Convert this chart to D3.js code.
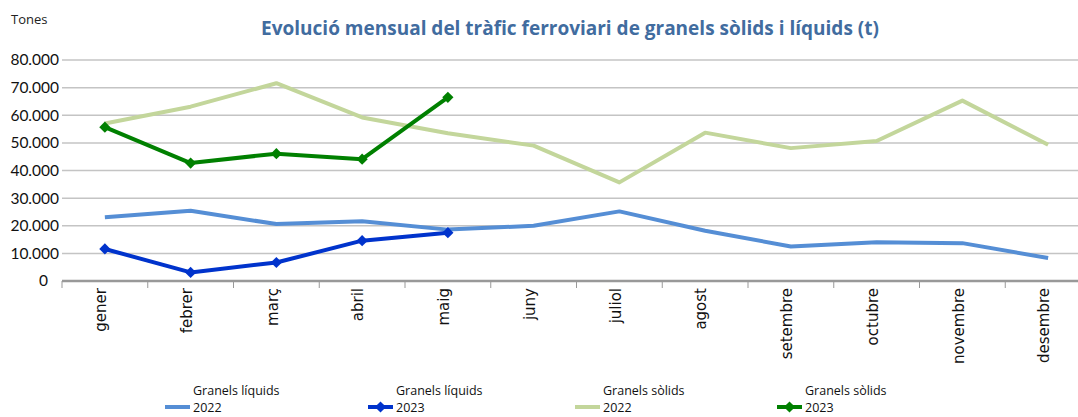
<!DOCTYPE html>
<html>
<head>
<meta charset="utf-8">
<script src="https://cdn.jsdelivr.net/npm/d3@7"></script>
<style>
  html, body { margin: 0; padding: 0; background: #fff; }
  svg { display: block; }
</style>
</head>
<body>
<svg id="chart" width="1078" height="417"></svg>
<script>
// Monthly rail traffic of dry and liquid bulk (tonnes)
const months = ["gener", "febrer", "març", "abril", "maig", "juny", "juliol",
                "agost", "setembre", "octubre", "novembre", "desembre"];
const yTicks = [0, 10000, 20000, 30000, 40000, 50000, 60000, 70000, 80000];

const liquids2022 = [23100, 25400, 20600, 21600, 18600, 20000, 25200, 18200, 12500, 14000, 13700, 8300];
const liquids2023 = [11600, 3100, 6700, 14600, 17500];
const solids2022  = [57000, 63100, 71600, 59200, 53500, 49000, 35700, 53700, 48100, 50700, 65300, 49300];
const solids2023  = [55700, 42700, 46100, 44100, 66500];

const series = [
  { name: ["Granels líquids", "2022"], values: liquids2022, color: "#558ED5", marker: false },
  { name: ["Granels líquids", "2023"], values: liquids2023, color: "#0033CC", marker: true },
  { name: ["Granels sòlids", "2022"],  values: solids2022,  color: "#C3D69B", marker: false },
  { name: ["Granels sòlids", "2023"],  values: solids2023,  color: "#008000", marker: true }
];

const svg = d3.select("#chart");
const plot = { left: 62, right: 1091, top: 60, bottom: 281 };

const x = d3.scaleBand().domain(months).range([plot.left, plot.right]);
const y = d3.scaleLinear().domain([0, 80000]).range([plot.bottom, plot.top]);
const fmt = d3.formatLocale({ decimal: ",", thousands: ".", grouping: [3], currency: ["", "€"] }).format(",d");

// Title and unit label
svg.append("text")
  .attr("x", 570).attr("y", 35)
  .attr("text-anchor", "middle")
  .attr("font-family", "'Open Sans', sans-serif")
  .attr("font-weight", "bold")
  .attr("font-size", 19)
  .attr("fill", "#416C9F")
  .text("Evolució mensual del tràfic ferroviari de granels sòlids i líquids (t)");

svg.append("text")
  .attr("x", 11).attr("y", 24)
  .attr("font-family", "'Open Sans', sans-serif")
  .attr("font-size", 13)
  .attr("fill", "#222")
  .text("Tones");

// Horizontal gridlines
svg.append("g")
  .selectAll("line")
  .data(yTicks.filter(d => d > 0))
  .join("line")
  .attr("x1", plot.left).attr("x2", 1078)
  .attr("y1", d => y(d)).attr("y2", d => y(d))
  .attr("stroke", "#C4C4C4")
  .attr("stroke-width", 1.5);

// Y axis labels
const yAxis = svg.append("g")
  .attr("transform", `translate(${plot.left - 3},0)`)
  .call(d3.axisLeft(y).tickValues(yTicks).tickFormat(fmt).tickSize(0).tickPadding(0));
yAxis.select(".domain").remove();
yAxis.selectAll("text")
  .attr("font-family", "Lato, sans-serif")
  .attr("font-size", 15.5)
  .attr("fill", "#111");
yAxis.selectAll(".tick").filter(d => d === 0).select("text").attr("dx", -11);

// X axis baseline with category boundary ticks
const xAxis = svg.append("g")
  .attr("transform", `translate(0,${plot.bottom})`);
xAxis.append("line")
  .attr("x1", plot.left).attr("x2", 1078)
  .attr("stroke", "#999").attr("stroke-width", 2.5);
xAxis.selectAll("line.tick")
  .data(months)
  .join("line")
  .attr("class", "tick")
  .attr("x1", d => x(d)).attr("x2", d => x(d))
  .attr("y1", 0).attr("y2", 7)
  .attr("stroke", "#999").attr("stroke-width", 1);
xAxis.selectAll("text")
  .data(months)
  .join("text")
  .attr("transform", d => `translate(${x(d) + x.bandwidth() / 2 - 4},7) rotate(-90)`)
  .attr("text-anchor", "end")
  .attr("dy", "0.35em")
  .attr("font-family", "'DejaVu Sans', sans-serif")
  .attr("font-size", 15)
  .attr("fill", "#111")
  .text(d => d);

// Series lines
const line = d3.line()
  .x((d, i) => x(months[i]) + x.bandwidth() / 2)
  .y(d => y(d));

const diamond = d3.symbol().type(d3.symbolDiamond2).size(80);

series.forEach(s => {
  svg.append("path")
    .datum(s.values)
    .attr("d", line)
    .attr("fill", "none")
    .attr("stroke", s.color)
    .attr("stroke-width", 4)
    .attr("stroke-linejoin", "round");
  if (s.marker) {
    svg.append("g")
      .selectAll("path")
      .data(s.values)
      .join("path")
      .attr("d", diamond)
      .attr("transform", (d, i) => `translate(${x(months[i]) + x.bandwidth() / 2},${y(d)})`)
      .attr("fill", s.color);
  }
});

// Legend
const legendX = [165, 368, 575, 777];
const legend = svg.append("g");
series.forEach((s, i) => {
  const g = legend.append("g").attr("transform", `translate(${legendX[i]},0)`);
  g.append("line")
    .attr("x1", 0).attr("x2", 25)
    .attr("y1", 407).attr("y2", 407)
    .attr("stroke", s.color).attr("stroke-width", 4);
  if (s.marker) {
    g.append("path")
      .attr("d", diamond)
      .attr("transform", "translate(12.5,407)")
      .attr("fill", s.color);
  }
  g.append("text")
    .attr("x", 28).attr("y", 395)
    .attr("font-family", "'Open Sans', sans-serif")
    .attr("font-size", 12.5)
    .attr("fill", "#111")
    .text(s.name[0]);
  g.append("text")
    .attr("x", 28).attr("y", 412)
    .attr("font-family", "'Open Sans', sans-serif")
    .attr("font-size", 12.5)
    .attr("fill", "#111")
    .text(s.name[1]);
});
</script>
</body>
</html>
